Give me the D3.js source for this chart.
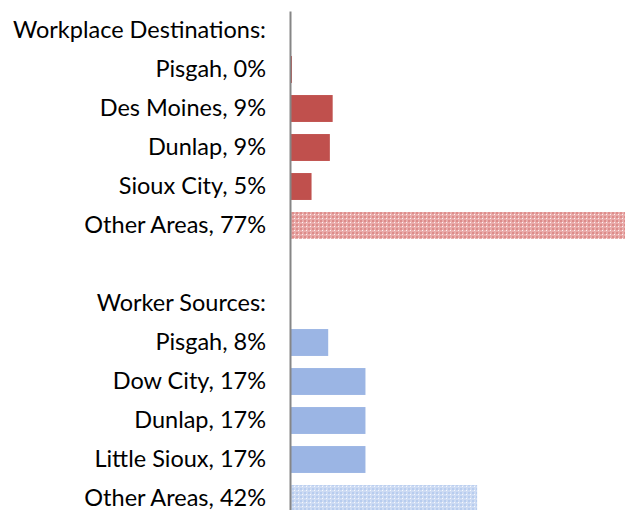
<!DOCTYPE html>
<html>
<head>
<meta charset="utf-8">
<script src="https://cdn.jsdelivr.net/npm/d3@7"></script>
<style>
  body { margin: 0; background: #fff; }
  svg { display: block; }
</style>
</head>
<body>
<script>
// data
const destHeader = "Workplace Destinations:";
const destNames = ["Pisgah", "Des Moines", "Dunlap", "Sioux City", "Other Areas"];
const destValues = [0.2, 9.33, 8.7, 4.6, 77];

const srcHeader = "Worker Sources:";
const srcNames = ["Pisgah", "Dow City", "Dunlap", "Little Sioux", "Other Areas"];
const srcValues = [8.33, 16.67, 16.67, 16.67, 41.67];

// build rows (header, bars, spacer, header, bars)
const rows = [];
rows.push({key: destHeader, value: null});
destNames.forEach((n, i) => rows.push({key: `${n}, ${Math.round(destValues[i])}%`, value: destValues[i], group: "dest", other: n === "Other Areas"}));
rows.push({key: " ", value: null});
rows.push({key: srcHeader, value: null});
srcNames.forEach((n, i) => rows.push({key: `${n}, ${Math.round(srcValues[i])}%`, value: srcValues[i], group: "src", other: n === "Other Areas"}));

const width = 625, height = 510;

const svg = d3.select("body")
  .append("svg")
    .attr("width", width)
    .attr("height", height);

// patterns for the "Other Areas" bars
const defs = svg.append("defs");
function checker(id, bg, dark, light) {
  const p = defs.append("pattern")
      .attr("id", id)
      .attr("patternUnits", "userSpaceOnUse")
      .attr("width", 4).attr("height", 4);
  p.append("rect").attr("width", 4).attr("height", 4).attr("fill", bg);
  p.append("rect").attr("x", 0).attr("y", 0).attr("width", 2).attr("height", 2).attr("fill", dark);
  p.append("rect").attr("x", 2).attr("y", 2).attr("width", 1).attr("height", 1).attr("fill", light);
}
checker("patRed", "#e9abaa", "#dd8c8a", "#fdf3f3");
checker("patBlue", "#cddbf3", "#b8cdef", "#f6f9fe");

const x = d3.scaleLinear()
    .domain([0, 75])
    .range([291, 626]);

const y = d3.scaleBand()
    .domain(rows.map(d => d.key))
    .range([11, 518])
    .paddingInner(0.31)
    .paddingOuter(0.155);

const fillFor = d => {
  if (d.group === "dest") return d.other ? "url(#patRed)" : "#c0504d";
  return d.other ? "url(#patBlue)" : "#9bb5e4";
};

svg.selectAll(".bar")
  .data(rows.filter(d => d.value !== null))
  .join("rect")
    .attr("class", "bar")
    .attr("x", x(0))
    .attr("y", d => y(d.key))
    .attr("width", d => Math.max(1, x(d.value) - x(0)))
    .attr("height", y.bandwidth())
    .attr("fill", fillFor);

// category axis with labels
const axis = svg.append("g")
    .attr("transform", "translate(290,0)")
    .call(d3.axisLeft(y).tickSize(0).tickSizeOuter(0).tickPadding(24));

axis.select(".domain")
    .attr("stroke", "#868686")
    .attr("stroke-width", 2);

axis.selectAll("text")
    .attr("fill", "#000")
    .style("font-family", "Lato, 'Open Sans', sans-serif")
    .style("font-size", "23.5px");
</script>
</body>
</html>
